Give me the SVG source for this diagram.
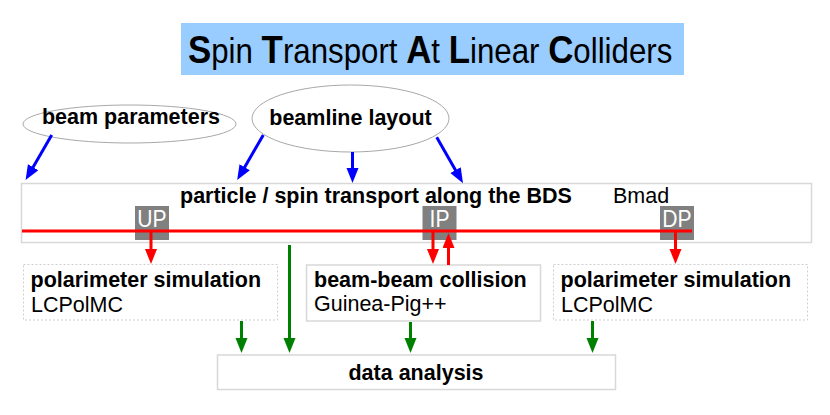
<svg xmlns="http://www.w3.org/2000/svg" width="830" height="415" viewBox="0 0 830 415">
<style>
text{font-family:"Liberation Sans",Arial,sans-serif;fill:#000}
.b{font-weight:bold;font-size:21.5px}
.r{font-size:21.5px}
.box{fill:#fff;stroke:#d8d8d8;stroke-width:1.5}
.dot{fill:#fff;stroke:#cfcfcf;stroke-width:1;stroke-dasharray:2,2}
.ell{fill:#fff;stroke:#a8a8a8;stroke-width:1}
.tag{fill:#808080}
.tagt{fill:#fff;font-size:24px;text-anchor:middle}
.blue{stroke:#0000ff;stroke-width:3;fill:none;marker-end:url(#ab)}
.red{stroke:#ff0000;stroke-width:3;fill:none;marker-end:url(#ar)}
.green{stroke:#008000;stroke-width:3;fill:none;marker-end:url(#ag)}
</style>
<defs>
<marker id="ab" markerUnits="userSpaceOnUse" markerWidth="16" markerHeight="13" refX="7" refY="6" orient="auto"><path d="M0,0L15,6L0,12z" fill="#0000ff"/></marker>
<marker id="ar" markerUnits="userSpaceOnUse" markerWidth="16" markerHeight="13" refX="7" refY="6" orient="auto"><path d="M0,0L15,6L0,12z" fill="#ff0000"/></marker>
<marker id="ag" markerUnits="userSpaceOnUse" markerWidth="16" markerHeight="13" refX="7" refY="6" orient="auto"><path d="M0,0L15,6L0,12z" fill="#008000"/></marker>
</defs>
<rect width="830" height="415" fill="#fff"/>
<g id="title">
<rect x="181" y="23" width="503" height="52" fill="#99ccff"/>
<text transform="translate(188,63) scale(0.893,1)" style="font-size:35px"><tspan font-weight="bold" font-size="39">S</tspan>pin <tspan font-weight="bold" font-size="39">T</tspan>ransport <tspan font-weight="bold" font-size="39">A</tspan>t <tspan font-weight="bold" font-size="39">L</tspan>inear <tspan font-weight="bold" font-size="39">C</tspan>olliders</text>
</g>
<g id="beam-parameters">
<ellipse class="ell" cx="129.5" cy="124" rx="106.5" ry="19"/>
<text class="b" x="131" y="124" text-anchor="middle">beam parameters</text>
</g>
<g id="beamline-layout">
<ellipse class="ell" cx="350.5" cy="118.5" rx="98.5" ry="33.5"/>
<text class="b" x="350.5" y="125" text-anchor="middle">beamline layout</text>
</g>
<g id="transport">
<rect class="box" x="21.5" y="183.5" width="790" height="59"/>
<text class="b" x="180" y="203">particle / spin transport along the BDS</text>
<text class="r" x="613" y="203">Bmad</text>
<rect class="tag" x="135" y="206" width="34" height="34"/>
<text class="tagt" transform="translate(152,227) scale(0.88,1)">UP</text>
<rect class="tag" x="422.5" y="206" width="34" height="34"/>
<text class="tagt" transform="translate(439.5,227) scale(0.88,1)">IP</text>
<rect class="tag" x="660" y="206" width="34" height="34"/>
<text class="tagt" transform="translate(677,227) scale(0.88,1)">DP</text>
<line x1="22" y1="231" x2="692" y2="231" stroke="#ff0000" stroke-width="3"/>
</g>
<g id="polarimeter-up">
<rect class="dot" x="23.5" y="264.5" width="254" height="55.5"/>
<text class="b" x="30.5" y="287">polarimeter simulation</text>
<text class="r" x="31" y="312">LCPolMC</text>
</g>
<g id="beam-beam">
<rect class="box" x="306.5" y="265" width="234" height="56"/>
<text class="b" x="314" y="287">beam-beam collision</text>
<text class="r" x="314" y="311">Guinea-Pig++</text>
</g>
<g id="polarimeter-dp">
<rect class="dot" x="553.5" y="264.5" width="254" height="55.5"/>
<text class="b" x="560.5" y="287">polarimeter simulation</text>
<text class="r" x="561" y="312">LCPolMC</text>
</g>
<g id="data-analysis">
<rect class="box" x="217.5" y="355" width="398" height="34.5"/>
<text class="b" x="416" y="380" text-anchor="middle">data analysis</text>
</g>
<g id="connectors">
<line class="blue" x1="51.7" y1="135" x2="29.6" y2="173.2"/>
<line class="blue" x1="263.3" y1="135" x2="241.2" y2="173.2"/>
<line class="blue" x1="352.5" y1="152" x2="352.5" y2="175"/>
<line class="blue" x1="436.7" y1="137.3" x2="459" y2="176.2"/>
<line class="red" x1="151" y1="231" x2="151" y2="256"/>
<line class="red" x1="433" y1="231" x2="433" y2="256"/>
<line class="red" x1="448.5" y1="265" x2="448.5" y2="241"/>
<line class="red" x1="675.5" y1="231" x2="675.5" y2="256"/>
<line class="green" x1="241.5" y1="321" x2="241.5" y2="345"/>
<line class="green" x1="289.5" y1="245" x2="289.5" y2="345"/>
<line class="green" x1="410.5" y1="322" x2="410.5" y2="345"/>
<line class="green" x1="592.5" y1="321" x2="592.5" y2="345"/>
</g>
</svg>
